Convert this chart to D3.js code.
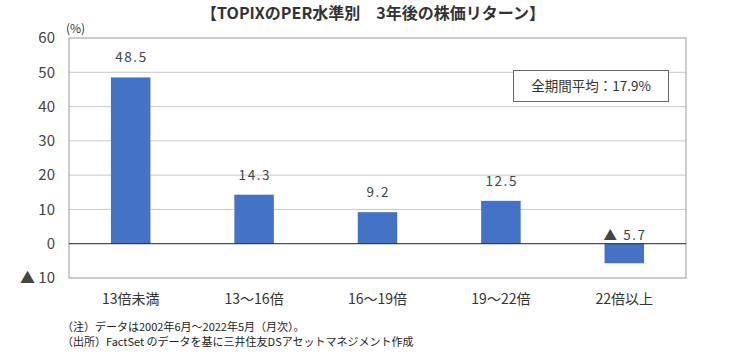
<!DOCTYPE html>
<html><head><meta charset="utf-8">
<script src="https://cdn.jsdelivr.net/npm/d3@7"></script>
<style>
body{margin:0;background:#fff;}
svg{font-family:"Noto Sans CJK JP","Noto Sans",sans-serif;}
</style></head>
<body><svg id="c" width="739" height="357"></svg>
<script>
const categories = ["13倍未満","13～16倍","16～19倍","19～22倍","22倍以上"];
const values = [48.5, 14.3, 9.2, 12.5, -5.7];
const valueLabels = ["48.5","14.3","9.2","12.5","▲ 5.7"];
const yTicks = [-10,0,10,20,30,40,50,60];
const yTickLabels = ["▲ 10","0","10","20","30","40","50","60"];
const title = "【TOPIXのPER水準別　3年後の株価リターン】";
const avgText = "全期間平均：17.9%";
const notes = ["（注）データは2002年6月～2022年5月（月次）。","（出所）FactSet のデータを基に三井住友DSアセットマネジメント作成"];

const svg = d3.select("#c");
const L=69, R=686, T=38, B=278;
const x = d3.scaleBand().domain(categories).range([L,R]).paddingInner(0.68).paddingOuter(0.34);
const y = d3.scaleLinear().domain([-10,60]).range([B,T]);
const JP = "\"Noto Sans CJK JP\",\"Noto Sans\",sans-serif";

svg.append("text").attr("x",373).attr("y",19).attr("text-anchor","middle")
  .style("font-family",JP)
  .attr("font-size",16).attr("font-weight","bold").attr("fill","#333").text(title);

// gridlines
svg.append("g").selectAll("line").data(yTicks.filter(d=>d>-10 && d<60 && d!==0)).join("line")
  .attr("x1",L).attr("x2",R).attr("y1",d=>y(d)).attr("y2",d=>y(d))
  .attr("stroke","#c8c8c8").attr("stroke-width",1);

// frame
svg.append("rect").attr("x",L).attr("y",T).attr("width",R-L).attr("height",B-T)
  .attr("fill","none").attr("stroke","#999").attr("stroke-width",1);

// y axis labels
const yAxis = d3.axisLeft(y).tickValues(yTicks).tickSize(0).tickPadding(14)
  .tickFormat((d,i)=>yTickLabels[i]);
const ga = svg.append("g").attr("transform",`translate(${L},0)`).call(yAxis);
ga.select(".domain").remove();
ga.attr("font-family",null).attr("font-size",null);
ga.selectAll("text").style("font-family",JP).attr("font-size",15).attr("fill","#444");

svg.append("text").attr("x",66).attr("y",33).style("font-family",JP)
  .attr("font-size",12).attr("fill","#333").text("(%)");

// bars
svg.append("g").selectAll("rect").data(values).join("rect")
  .attr("x",(d,i)=>x(categories[i])).attr("width",x.bandwidth())
  .attr("y",d=>y(Math.max(0,d))).attr("height",d=>Math.abs(y(d)-y(0)))
  .attr("fill","#4472c4");

// zero line
svg.append("line").attr("x1",L).attr("x2",R).attr("y1",y(0)).attr("y2",y(0))
  .attr("stroke","#222").attr("stroke-width",1);

// value labels
svg.append("g").selectAll("text").data(values).join("text")
  .attr("x",(d,i)=>x(categories[i])+x.bandwidth()/2+0.8)
  .attr("y",d=>d>=0? y(d)-15 : y(0)-4)
  .attr("text-anchor","middle").attr("font-size",13.5).attr("fill","#444")
  .attr("letter-spacing",1.6)
  .style("font-family",JP)
  .text((d,i)=>valueLabels[i]);

// category labels
const xAxis = d3.axisBottom(x).tickSize(0).tickPadding(16);
const gx = svg.append("g").attr("transform",`translate(0,${B})`).call(xAxis);
gx.select(".domain").remove();
gx.attr("font-family",null).attr("font-size",null);
gx.selectAll("text").style("font-family",JP).attr("font-size",14).attr("fill","#333");

// average box
svg.append("rect").attr("x",513.5).attr("y",70.5).attr("width",155).attr("height",31)
  .attr("fill","#fff").attr("stroke","#666").attr("stroke-width",1);
svg.append("text").attr("x",591).attr("y",91).attr("text-anchor","middle").style("font-family",JP)
  .attr("font-size",13.5).attr("fill","#333").text(avgText);

// notes
svg.append("g").selectAll("text").data(notes).join("text")
  .attr("x",62).attr("y",(d,i)=>331+i*15).style("font-family",JP)
  .attr("font-size",11).attr("fill","#222").text(d=>d);
</script></body></html>
